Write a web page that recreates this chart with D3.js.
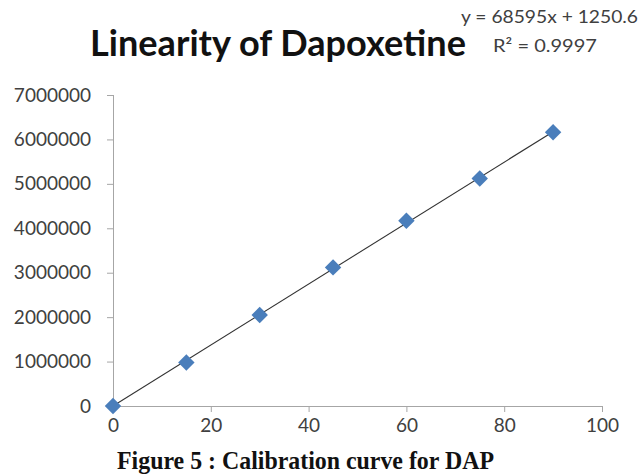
<!DOCTYPE html>
<html>
<head>
<meta charset="utf-8">
<script src="https://cdn.jsdelivr.net/npm/d3@7"></script>
<style>
  body { margin: 0; background: #fff; }
  svg { display: block; }
  .axis path, .axis line { stroke: #a6a6a6; }
  .axis text { font-family: Lato, "Open Sans", sans-serif; font-size: 19px; fill: #404040; }
</style>
</head>
<body>
<svg id="chart" width="639" height="476"></svg>
<script>
'use strict';

// concentration (x) and peak area (y)
const concentrations = [0, 15, 30, 45, 60, 75, 90];
const peakAreas = [0, 980000, 2050000, 3120000, 4170000, 5120000, 6160000];
const xTicks = [0, 20, 40, 60, 80, 100];
const yTicks = [0, 1000000, 2000000, 3000000, 4000000, 5000000, 6000000, 7000000];
const slope = 68595;
const intercept = 1250.6;

const svg = d3.select('#chart');
const plotLeft = 113, plotRight = 602, plotTop = 95, plotBottom = 406;

const x = d3.scaleLinear().domain([0, 100]).range([plotLeft, plotRight]);
const y = d3.scaleLinear().domain([0, 7000000]).range([plotBottom, plotTop]);

// axes
svg.append('g')
    .attr('class', 'axis')
    .attr('transform', 'translate(0,' + plotBottom + ')')
    .call(d3.axisBottom(x).tickValues(xTicks).tickSize(6).tickSizeOuter(0).tickPadding(7))
    .call(g => g.select('.domain').attr('d', 'M' + plotLeft + ',0.5H' + plotRight))
    .selectAll('.tick').filter(d => d === 0).select('line').remove();

svg.append('g')
    .attr('class', 'axis')
    .attr('transform', 'translate(' + plotLeft + ',0)')
    .call(d3.axisLeft(y).tickValues(yTicks).tickSize(6).tickSizeOuter(0).tickPadding(16).tickFormat(d3.format('d')))
    .call(g => g.select('.domain').attr('d', 'M0.5,' + plotTop + 'V' + plotBottom));

// trend line
const fitLine = d3.line()
    .x(d => x(d))
    .y(d => y(slope * d + intercept));

svg.append('path')
    .datum([concentrations[0], concentrations[concentrations.length - 1]])
    .attr('d', fitLine)
    .attr('fill', 'none')
    .attr('stroke', '#333')
    .attr('stroke-width', 1.1);

// diamonds
const diamond = d3.symbol().type(d3.symbolSquare).size(135);
svg.selectAll('.pt')
    .data(d3.zip(concentrations, peakAreas))
    .enter().append('path')
    .attr('class', 'pt')
    .attr('d', diamond)
    .attr('transform', d => 'translate(' + x(d[0]) + ',' + y(d[1]) + ') rotate(45)')
    .attr('fill', '#4a7ebb');

// titles
svg.append('text')
    .attr('x', 90).attr('y', 56)
    .attr('textLength', 376).attr('lengthAdjust', 'spacingAndGlyphs')
    .style('font-family', 'Lato, "Open Sans", sans-serif')
    .style('font-weight', 'bold').style('font-size', '37px')
    .attr('fill', '#111')
    .text('Linearity of Dapoxetine');

svg.append('text')
    .attr('x', 461).attr('y', 23)
    .attr('textLength', 177).attr('lengthAdjust', 'spacingAndGlyphs')
    .style('font-family', 'Lato, "Open Sans", sans-serif').style('font-size', '18px')
    .attr('fill', '#404040')
    .text('y = ' + slope + 'x + ' + intercept);

svg.append('text')
    .attr('x', 493).attr('y', 52)
    .attr('textLength', 104).attr('lengthAdjust', 'spacingAndGlyphs')
    .style('font-family', 'Lato, "Open Sans", sans-serif').style('font-size', '18px')
    .attr('fill', '#404040')
    .text('R² = 0.9997');

svg.append('text')
    .attr('x', 117).attr('y', 469)
    .attr('textLength', 377).attr('lengthAdjust', 'spacingAndGlyphs')
    .style('font-family', '"Liberation Serif", "Times New Roman", serif')
    .style('font-weight', 'bold').style('font-size', '26px')
    .attr('fill', '#111')
    .text('Figure 5 : Calibration curve for DAP');
</script>
</body>
</html>
